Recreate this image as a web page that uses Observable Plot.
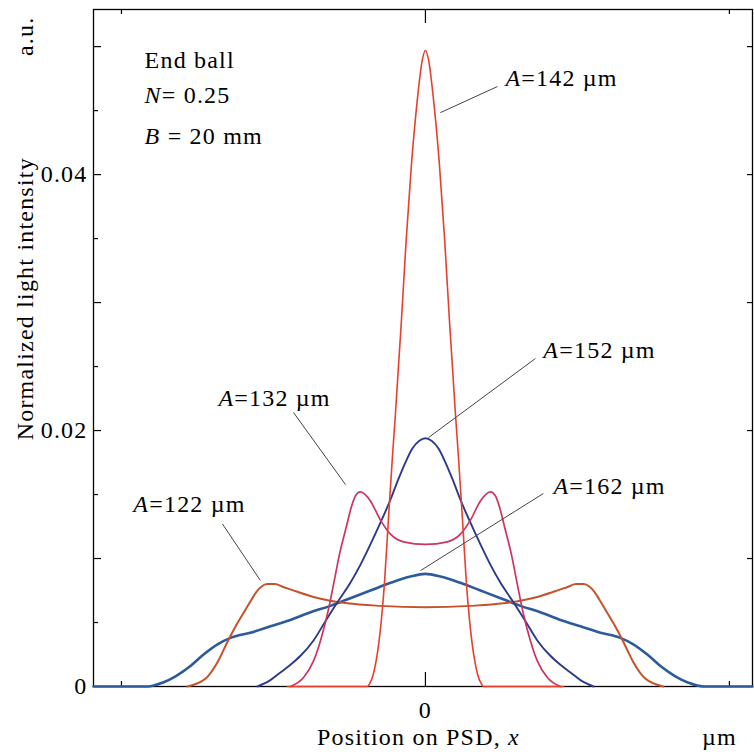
<!DOCTYPE html>
<html>
<head>
<meta charset="utf-8">
<script src="https://cdn.jsdelivr.net/npm/d3@7"></script>
<script src="https://cdn.jsdelivr.net/npm/@observablehq/plot@0.6"></script>
<style>
  html, body { margin: 0; padding: 0; background: white; }
  svg text { font-family: "Liberation Serif", serif; }
</style>
</head>
<body>
<script>
// ---- Data (x: position on PSD, ticks at ±100; y: normalized light intensity, a.u.) ----
const x142 = [-45.4,-19.1,-18.4,-17.1,-15.8,-14.5,-13.5,-12.2,-10.9,-9.9,-7.9,-6.3,-4.6,-2.6,-1.0,0,1.0,2.6,4.6,6.3,7.9,9.9,10.9,12.2,13.5,14.5,15.8,17.1,18.4,19.1,45.4];
const y142 = [0,0,0.0002,0.0010,0.0026,0.0052,0.0080,0.0130,0.0178,0.0212,0.0286,0.0350,0.0408,0.0460,0.0490,0.0497,0.0490,0.0460,0.0408,0.0350,0.0286,0.0212,0.0178,0.0130,0.0080,0.0052,0.0026,0.0010,0.0002,0,0];

const x132 = [-44.4,-40.1,-36.8,-34.5,-32.2,-30.3,-28.3,-26.0,-24.4,-23.0,-21.4,-19.8,-18.1,-14.8,-11.5,-7.2,0,7.2,11.5,14.8,18.1,19.8,21.4,23.0,24.4,26.0,28.3,30.3,32.2,34.5,36.8,40.1,44.4];
const y132 = [0,0.0007,0.0020,0.0036,0.0057,0.0079,0.0103,0.0125,0.0140,0.0149,0.0152,0.0150,0.0145,0.0130,0.0119,0.0113,0.0111,0.0113,0.0119,0.0130,0.0145,0.0150,0.0152,0.0149,0.0140,0.0125,0.0103,0.0079,0.0057,0.0036,0.0020,0.0007,0];

const x152 = [-55.3,-51.0,-47.7,-44.4,-41.1,-36.8,-32.9,-28.9,-24.7,-21.4,-18.1,-14.8,-11.5,-8.9,-6.6,-4.3,-2.0,0,2.0,4.3,6.6,8.9,11.5,14.8,18.1,21.4,24.7,28.9,32.9,36.8,41.1,44.4,47.7,51.0,55.3];
const y152 = [0,0.0005,0.0011,0.0017,0.0024,0.0036,0.0051,0.0066,0.0081,0.0095,0.0111,0.0128,0.0146,0.0162,0.0175,0.0186,0.0192,0.0194,0.0192,0.0186,0.0175,0.0162,0.0146,0.0128,0.0111,0.0095,0.0081,0.0066,0.0051,0.0036,0.0024,0.0017,0.0011,0.0005,0];

const x122 = [-78.3,-72.4,-68.4,-65.1,-62.2,-59.2,-57.2,-55.6,-54.0,-52.0,-49.5,-47.0,-42.1,-36.8,-25.7,-14.8,0,14.8,25.7,36.8,42.1,47.0,49.5,52.0,54.0,55.6,57.2,59.2,62.2,65.1,68.4,72.4,78.3];
const y122 = [0,0.0006,0.0019,0.0035,0.0048,0.0060,0.0068,0.0074,0.0078,0.0080,0.0080,0.0078,0.0074,0.0070,0.0065,0.0063,0.0062,0.0063,0.0065,0.0070,0.0074,0.0078,0.0080,0.0080,0.0078,0.0074,0.0068,0.0060,0.0048,0.0035,0.0019,0.0006,0];

const x162 = [-109.2,-91.4,-86.5,-82.2,-77.3,-73.0,-68.4,-64.1,-57.6,-51.0,-44.4,-37.8,-31.3,-24.7,-18.1,-11.5,-4.9,0,4.9,11.5,18.1,24.7,31.3,37.8,44.4,51.0,57.6,64.1,68.4,73.0,77.3,82.2,86.5,91.4,107.6];
const y162 = [0,0,0.0003,0.0008,0.0016,0.0025,0.0033,0.0038,0.0042,0.0047,0.0052,0.0058,0.0063,0.0069,0.0075,0.0081,0.0086,0.0088,0.0086,0.0081,0.0075,0.0069,0.0063,0.0058,0.0052,0.0047,0.0042,0.0038,0.0033,0.0025,0.0016,0.0008,0.0003,0,0];

// Tick values
const yLabelTicks = [0, 0.02, 0.04];
const yMajorTicks = [0.01, 0.02, 0.03, 0.04, 0.05];
const yMinorTicks = [0.005, 0.015, 0.025, 0.035, 0.045];
const xMajorTicks = [0];
const xMinorTicks = [-100, 100];

// Annotations
const annLabels = ["*A*=142 µm", "*A*=132 µm", "*A*=122 µm", "*A*=152 µm", "*A*=162 µm"];
const annX = [26.3, -68.1, -96.1, 38.8, 42.1];
const annY = [0.0475, 0.02255, 0.0142, 0.0263, 0.01568];
const leadX1 = [23.7, -43.4, -66.8, 36.2, 38.8];
const leadY1 = [0.04688, 0.02141, 0.01271, 0.02563, 0.01508];
const leadX2 = [4.9, -26.3, -54.3, 1.0, -1.6];
const leadY2 = [0.04484, 0.01578, 0.00828, 0.01945, 0.00906];

const infoLines = ["End ball", "*N*= 0.25", "*B* = 20 mm"];
const infoY = [0.04896, 0.04617, 0.04300];
const infoX = -92.4;

// ---- Layout ----
const W = 754, H = 756, mL = 93, mR = 2, mT = 9, mB = 70;
const plotW = W - mL - mR, plotH = H - mT - mB;

const series = [
  {xs: x162, ys: y162, color: "#2b5b9b", w: 2.6},
  {xs: x122, ys: y122, color: "#c4532b", w: 2.0},
  {xs: x152, ys: y152, color: "#2d3a8c", w: 1.9},
  {xs: x132, ys: y132, color: "#d0335e", w: 1.7},
  {xs: x142, ys: y142, color: "#e8402f", w: 1.6}
];
const toRows = s => s.xs.map((x, i) => ({x, y: s.ys[i]}));

const ann = annLabels.map((t, i) => ({t, x: annX[i], y: annY[i]}));
const leads = leadX1.map((x1, i) => ({x1, y1: leadY1[i], x2: leadX2[i], y2: leadY2[i]}));
const info = infoLines.map((t, i) => ({t, x: infoX, y: infoY[i]}));

const plot = Plot.plot({
  width: W, height: H,
  marginLeft: mL, marginRight: mR, marginTop: mT, marginBottom: mB,
  x: {domain: [-109.2, 107.6]},
  y: {domain: [0, 0.0529]},
  style: {fontSize: "24px", letterSpacing: "1.2px", background: "white", color: "black", overflow: "visible"},
  marks: [
    Plot.frame({stroke: "black", strokeWidth: 1.3}),
    // inward ticks
    Plot.tickY(yMajorTicks, {y: d => d, insetRight: plotW - 8, stroke: "black", strokeWidth: 1.2}),
    Plot.tickY(yMinorTicks, {y: d => d, insetRight: plotW - 5, stroke: "black", strokeWidth: 1.2}),
    Plot.tickY(yMajorTicks, {y: d => d, insetLeft: plotW - 5, stroke: "black", strokeWidth: 1.2}),
    Plot.tickX(xMajorTicks, {x: d => d, insetTop: plotH - 14, stroke: "black", strokeWidth: 1.2}),
    Plot.tickX(xMinorTicks, {x: d => d, insetTop: plotH - 5, stroke: "black", strokeWidth: 1.2}),
    Plot.tickX(xMajorTicks, {x: d => d, insetBottom: plotH - 14, stroke: "black", strokeWidth: 1.2}),
    Plot.tickX(xMinorTicks, {x: d => d, insetBottom: plotH - 5, stroke: "black", strokeWidth: 1.2}),
    Plot.axisY({ticks: yLabelTicks, tickSize: 0, tickPadding: 6, label: null, tickFormat: d => d === 0 ? "0" : d.toFixed(2)}),
    Plot.axisX({ticks: xMajorTicks, tickSize: 0, tickPadding: 14, label: null, tickFormat: d => "0"}),
    // curves
    ...series.map(s => Plot.line(toRows(s), {x: "x", y: "y", stroke: s.color, strokeWidth: s.w, curve: "monotone-x"})),
    // leader lines & annotations
    Plot.link(leads, {x1: "x1", y1: "y1", x2: "x2", y2: "y2", stroke: "#444", strokeWidth: 1}),
    Plot.text(ann, {x: "x", y: "y", text: "t", textAnchor: "start", lineAnchor: "middle"}),
    Plot.text(info, {x: "x", y: "y", text: "t", textAnchor: "start", lineAnchor: "middle"}),
    // axis titles
    Plot.text(["Normalized light intensity"], {x: -131.6, y: 0.0303, text: d => d, rotate: -90, lineAnchor: "middle"}),
    Plot.text(["a.u."], {x: -131.6, y: 0.0508, text: d => d, rotate: -90, lineAnchor: "middle"}),
    Plot.text(["Position on PSD, *x*"], {x: -2.3, y: -0.0040, text: d => d, lineAnchor: "middle"}),
    Plot.text(["µm"], {x: 96.7, y: -0.0040, text: d => d, lineAnchor: "middle"})
  ]
});

// italic segments marked with *...*
d3.select(plot).selectAll("text").each(function () {
  const t = this.textContent;
  if (!t.includes("*")) return;
  const parts = t.split("*");
  this.textContent = "";
  parts.forEach((p, i) => {
    if (!p) return;
    const ts = document.createElementNS("http://www.w3.org/2000/svg", "tspan");
    ts.textContent = p;
    if (i % 2 === 1) ts.setAttribute("font-style", "italic");
    this.appendChild(ts);
  });
});

document.body.append(plot);
</script>
</body>
</html>
